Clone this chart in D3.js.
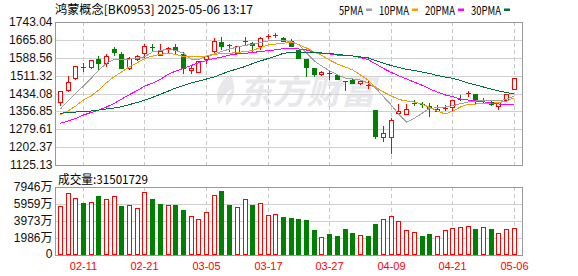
<!DOCTYPE html>
<html>
<head>
<meta charset="utf-8">
<script src="https://cdn.jsdelivr.net/npm/d3@7/dist/d3.min.js"></script>
<style>
  body { margin: 0; background: #fff; }
  svg { display: block; font-family: "Liberation Sans", Arial, "Noto Sans CJK SC", sans-serif; }
</style>
</head>
<body>
<svg id="chart" width="578" height="276"></svg>
<script>
// ---- data ----
var title = "鸿蒙概念[BK0953] 2025-05-06 13:17";
var volTitle = "成交量:31501729";

var dates = ["02-06","02-07","02-10","02-11","02-12","02-13","02-14","02-17","02-18","02-19",
  "02-20","02-21","02-24","02-25","02-26","02-27","02-28","03-03","03-04","03-05",
  "03-06","03-07","03-10","03-11","03-12","03-13","03-14","03-17","03-18","03-19",
  "03-20","03-21","03-24","03-25","03-26","03-27","03-28","03-31","04-01","04-02",
  "04-03","04-07","04-08","04-09","04-10","04-11","04-14","04-15","04-16","04-17",
  "04-18","04-21","04-22","04-23","04-24","04-25","04-28","04-29","04-30","05-06"];

var open = [1396,1447.9,1501.1,1547.3,1547.3,1581.9,1567.2,1626.4,1604.8,1545.5,
  1584.4,1607.8,1634.3,1601.7,1630,1633.7,1603.5,1535.6,1528.3,1581.9,
  1616.4,1656.6,1644,1610.5,1660,1652.3,1639.3,1682,1686.5,1672.6,
  1660.9,1622,1583.2,1543,1518.3,1522,1514,1485,1492.4,1478,
  1469,1362.8,1244.8,1244.8,1348.5,1345.5,1395,1388,1380,1360,
  1372,1374.5,1411,1434,1432,1406,1397.4,1380,1404.7,1452.2];
var high = [1446,1509.7,1553,1567,1581,1596.1,1606,1636.3,1613.4,1593.1,
  1601.7,1646.7,1648,1648,1636,1646.7,1613.4,1554.2,1575,1600.4,
  1672.6,1679.5,1648,1639,1677,1656.6,1679.5,1690,1694,1677,
  1669.5,1624,1585,1544,1532.6,1536,1517,1486.5,1496.7,1489,
  1488,1363,1293.6,1328.2,1387.4,1387.4,1406,1399,1391.7,1383.2,
  1384,1406.5,1426,1446,1433,1415,1406,1397,1433,1500.5];
var low = [1383,1446,1498,1533,1546,1541.3,1554.2,1601.7,1544,1540,
  1577.5,1593.1,1619,1600,1613,1607.8,1524,1521.4,1527,1567.2,
  1615,1627.7,1619,1609,1644,1612,1627.7,1673,1677,1660,
  1638,1587,1509.7,1509.7,1512.7,1495,1497,1449,1479,1477,
  1459,1240.4,1230,1178.3,1348,1345,1383,1374,1338,1359,
  1362,1363,1406,1423,1394.3,1397,1383,1368.4,1404,1452];
var close = [1444.9,1483.8,1551.6,1545,1580.1,1567.2,1594.8,1614.7,1545.5,1586.2,
  1596.1,1638,1632,1616.4,1631.5,1622,1543,1545.5,1574.5,1596.1,
  1660.9,1640.6,1643,1638,1661,1643.6,1673.9,1683,1687,1662,
  1640.6,1588.8,1549.9,1518.3,1525.7,1521,1498,1486,1480.7,1488,
  1470,1251.7,1262,1319.6,1359.8,1365.8,1394,1387,1371.4,1367,
  1373,1406,1410,1435,1406,1407,1388.8,1396,1432,1499.7];

// volume in 万
var volume = [5726,7206,6622,6037,6154,6894,6544,6855,5726,5804,
  5453,7323,6544,5959,5804,5843,5258,4519,4207,4987,
  6972,7478,5843,5570,6544,5843,6037,4636,4753,4440,
  4323,4207,4090,2921,2064,2454,2220,3038,2571,2298,
  2220,3622,4207,4557,3934,2882,2649,2220,2454,2220,
  2882,3155,3272,3389,3038,3272,3038,2532,3038,3150];
// 1 = red (up) volume bar, 0 = green
var volUp = [1,1,1,0,1,0,1,1,0,1,
  1,1,0,0,1,0,0,1,1,1,
  1,0,0,1,1,0,1,1,1,0,
  0,0,0,0,1,0,0,0,0,1,
  0,0,1,1,1,1,1,0,0,1,
  1,1,1,1,0,1,0,1,1,1];

var ma5 = [1367.1,1401.7,1436.2,1466.5,1499.7,1535.6,1564.6,1581.8,1581.8,1583.1,
  1586.2,1593.1,1614.7,1619.0,1626.4,1619.9,1607.8,1583,1581,1596.1,
  1604.8,1615.6,1626.4,1635.0,1641.5,1648.0,1654.5,1660.9,1663.1,1663.1,
  1658.8,1643.7,1609.1,1575,1552,1532,1515,1501.0,1496.7,1492.4,
  1479.4,1456.5,1420.2,1384.4,1344.2,1310.9,1326.9,1348.5,1370.1,1372.7,
  1375.7,1381.3,1390.0,1397.3,1401.7,1401.7,1403.8,1401.7,1410.3,1423.3];
var ma10 = [1341.2,1358.4,1380.1,1406.0,1423.3,1449.2,1480.7,1506.7,1528.3,1549.9,
  1567.2,1586.2,1596.1,1603.5,1607.8,1602.6,1594.0,1591.8,1593.1,1596.1,
  1602.6,1606.9,1607.8,1611.2,1615.6,1619.9,1632.8,1643.7,1648.0,1651.0,
  1656.6,1645.8,1630.7,1613.4,1598.3,1578.8,1561.5,1548.6,1535.6,1514.0,
  1492.4,1460.0,1440.6,1423.3,1408.1,1401.7,1397.3,1388.7,1373.6,1358.4,
  1345.5,1358.4,1375.7,1387.4,1388.7,1390.9,1391.7,1395.2,1401.7,1415.9];
var ma20 = [1305.3,1315.2,1326.0,1341.2,1352.0,1362.8,1375.7,1391.7,1410.3,1429.8,
  1447.0,1466.5,1479.4,1495.4,1516.2,1531.3,1543.0,1555.0,1568.0,1576.7,
  1585.3,1591.8,1600.4,1604.8,1607.8,1611.2,1615.6,1619.0,1622.9,1627.7,
  1628.5,1626.4,1622.0,1611.2,1607.8,1604.8,1600.4,1600.4,1596.1,1590,
  1580,1562,1542,1525,1510,1497,1483,1470,1454,1440,
  1428,1420.2,1410.3,1406.0,1401.7,1398.6,1393.0,1388.7,1386.5,1384.4];
var ma30 = [1348.5,1352.0,1354.1,1355.4,1358.4,1362.8,1367.1,1371.4,1377.0,1386.5,
  1395.2,1406.0,1417.6,1430.6,1444.0,1457.8,1468.6,1479.4,1488.1,1496.7,
  1505.4,1518.3,1531.3,1539.9,1550.7,1563.7,1574.5,1585.3,1596.1,1607.8,
  1612.1,1612.1,1612.1,1612.1,1609.1,1606.9,1602.6,1599.5,1596,1592,
  1588,1576,1565,1555,1546,1538.6,1533.4,1527.0,1520.5,1511.8,
  1505.4,1499.7,1490.2,1479.4,1470.8,1462.1,1453.5,1444.9,1438.4,1431.9];

var priceTicks = [1125.13,1202.37,1279.61,1356.85,1434.08,1511.32,1588.56,1665.80,1743.04];
var volTicks = [0,1986,3973,5959,7946];
var dateTicks = ["02-11","02-21","03-05","03-17","03-27","04-09","04-21","05-06"];
var maNames = ["5PMA","10PMA","20PMA","30PMA"];
var maColors = ["#a0a0a0","#f0a000","#ff00ff","#00703c"];

// ---- layout ----
var svg = d3.select("#chart");
var left = 55.5, right = 522.5;
var mainTop = 22, mainBot = 165, volTop = 187, volBot = 255;
var red = "#ff0000", green = "#008000";

var x = d3.scaleBand().domain(dates).range([56.5, 518.2]).padding(0);
var bw = x.bandwidth();
function col(d) { return Math.floor(x(d) + bw / 2); }   // pixel column of a bar centre
var y = d3.scaleLinear().domain([priceTicks[0], priceTicks[priceTicks.length - 1]]).range([mainBot, mainTop]);
var yv = d3.scaleLinear().domain([0, volTicks[volTicks.length - 1]]).range([volBot, volTop]);
function snap(v) { return Math.round(v) + 0.5; }

// text drawn with SimSun-like advance widths (CJK 12px, ascii 6px)
function fixedWidth(s) { var w = 0; for (var ch of s) w += ch.charCodeAt(0) > 255 ? 12 : 6; return w; }
function bitmapText(g, str, px, py, fill) {
  return g.append("text").attr("x", px).attr("y", py)
    .attr("dominant-baseline", "central")
    .style("font-family", "'Noto Sans CJK SC', sans-serif").style("font-size", "12px")
    .attr("fill", fill || "#000")
    .attr("textLength", fixedWidth(str)).attr("lengthAdjust", "spacingAndGlyphs")
    .text(str);
}

// ---- watermark ----
var wm = svg.append("g").attr("fill", "#e8e8ec");
wm.append("path").attr("d", "M231,75 C219,80 214,93 219,105 C222,98 226,92 233,89 C227,95 225,100 226,106 C234,100 237,88 231,75 Z");
wm.append("text").attr("x", 238).attr("y", 104)
  .style("font-family", "'Noto Sans CJK SC', sans-serif").style("font-size", "34px")
  .style("font-weight", "bold").style("font-style", "italic")
  .attr("textLength", 137).attr("lengthAdjust", "spacingAndGlyphs")
  .text("东方财富");

// ---- grids ----
var grid = svg.append("g").attr("shape-rendering", "crispEdges");
grid.selectAll("line.hp").data(priceTicks.slice(1, -1)).join("line")
  .attr("x1", left).attr("x2", right)
  .attr("y1", function(d) { return snap(y(d)); }).attr("y2", function(d) { return snap(y(d)); })
  .attr("stroke", "#d0d0d0");
grid.selectAll("line.hv").data(volTicks.slice(1, -1)).join("line")
  .attr("x1", left).attr("x2", right)
  .attr("y1", function(d) { return snap(yv(d)); }).attr("y2", function(d) { return snap(yv(d)); })
  .attr("stroke", "#d0d0d0");
[[mainTop, mainBot], [volTop, volBot]].forEach(function(p) {
  grid.append("g").selectAll("line").data(dateTicks).join("line")
    .attr("x1", function(d) { return col(d) + 0.5; }).attr("x2", function(d) { return col(d) + 0.5; })
    .attr("y1", p[0]).attr("y2", p[1])
    .attr("stroke", "#c8c8c8").attr("stroke-dasharray", "4,3");
});

// ---- candles ----
var idx = d3.range(dates.length);
var cg = svg.append("g").attr("shape-rendering", "crispEdges");
idx.forEach(function(i) {
  var c = col(dates[i]);
  var up = close[i] >= open[i];
  var color = up ? red : green;
  var yt = Math.round(y(Math.max(open[i], close[i])));
  var yb = Math.round(y(Math.min(open[i], close[i])));
  cg.append("line").attr("x1", c + 0.5).attr("x2", c + 0.5)
    .attr("y1", Math.round(y(high[i]))).attr("y2", Math.round(y(low[i])) + 1)
    .attr("stroke", color);
  if (yb - yt < 2) {
    cg.append("line").attr("x1", c - 2).attr("x2", c + 3)
      .attr("y1", yt + 0.5).attr("y2", yt + 0.5).attr("stroke", color);
  } else if (up) {
    cg.append("rect").attr("x", c - 1.5).attr("y", yt + 0.5)
      .attr("width", 4).attr("height", yb - yt)
      .attr("fill", "#fff").attr("stroke", color);
  } else {
    cg.append("rect").attr("x", c - 2).attr("y", yt)
      .attr("width", 5).attr("height", yb - yt + 1).attr("fill", color);
  }
});

// ---- moving averages ----
var line = d3.line()
  .x(function(d, i) { return x(dates[i]) + bw / 2; })
  .y(function(d) { return y(d); });
[ma5, ma10, ma20, ma30].forEach(function(s, k) {
  svg.append("path").datum(s).attr("d", line)
    .attr("fill", "none").attr("stroke", maColors[k]).attr("stroke-width", 1)
    .attr("shape-rendering", "crispEdges");
});

// ---- volume bars ----
var vg = svg.append("g").attr("shape-rendering", "crispEdges");
idx.forEach(function(i) {
  var c = col(dates[i]);
  var top = Math.round(yv(volume[i]));
  if (volUp[i]) {
    vg.append("rect").attr("x", c - 1.5).attr("y", top + 0.5)
      .attr("width", 4).attr("height", volBot - top - 1)
      .attr("fill", "#fff").attr("stroke", red);
  } else {
    vg.append("rect").attr("x", c - 2).attr("y", top)
      .attr("width", 5).attr("height", volBot - top).attr("fill", green);
  }
});

// ---- frames ----
var fr = svg.append("g").attr("shape-rendering", "crispEdges").attr("fill", "none").attr("stroke", "#999");
fr.append("rect").attr("x", left).attr("y", mainTop + 0.5).attr("width", right - left).attr("height", mainBot - mainTop);
fr.append("rect").attr("x", left).attr("y", volTop + 0.5).attr("width", right - left).attr("height", volBot - volTop);

// ---- axis labels ----
var fmt = d3.format(".2f");
svg.append("g").selectAll("text").data(priceTicks).join("text")
  .attr("x", 52.5).attr("y", function(d) { return y(d); })
  .attr("text-anchor", "end").attr("dominant-baseline", "central")
  .style("font-size", "12px").attr("fill", "#111")
  .text(function(d) { return fmt(d); });
svg.append("g").selectAll("text").data(volTicks).join("text")
  .attr("x", 52.5).attr("y", function(d) { return d === 0 ? yv(d) - 1.5 : yv(d); })
  .attr("text-anchor", "end").attr("dominant-baseline", "central")
  .style("font-size", "12px").attr("fill", "#111")
  .text(function(d) { return d === 0 ? "0" : d + "万"; });
svg.append("g").selectAll("text").data(dateTicks).join("text")
  .attr("x", function(d) { return col(d) + 0.5; }).attr("y", 265.5)
  .attr("text-anchor", "middle").attr("dominant-baseline", "central")
  .style("font-size", "11px").attr("fill", red)
  .text(function(d) { return d; });

// ---- titles & legend ----
bitmapText(svg, title, 55, 8.5);
bitmapText(svg, volTitle, 58, 178);
var lx = 339;
maNames.forEach(function(n, k) {
  var tl = fixedWidth(n);
  bitmapText(svg, n, lx, 9.5);
  svg.append("rect").attr("x", lx + tl + 3).attr("y", 8.5).attr("width", 6).attr("height", 2.5)
    .attr("fill", maColors[k]);
  lx += tl + 16;
});
</script>
</body>
</html>
